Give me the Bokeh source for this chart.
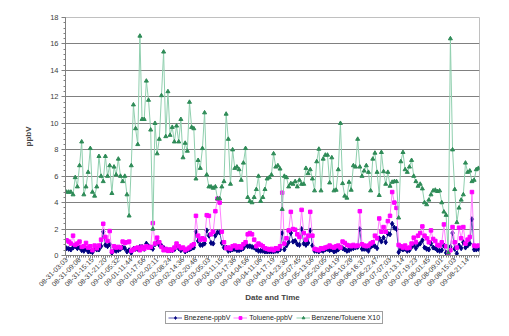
import math
from bokeh.plotting import figure
from bokeh.layouts import column
from bokeh.models import (FixedTicker, SingleIntervalTicker, Range1d, Legend,
                          LegendItem)
from bokeh.embed import file_html
from bokeh.resources import INLINE

# ---------------- data ----------------
tick_labels = [
    "08-31-03:03", "08-31-09:08", "08-31-15:15", "08-31-21:20", "09-01-05:32",
    "09-01-11:44", "09-01-17:56", "09-02-02:11", "09-02-08:24", "09-02-14:36",
    "09-02-20:46", "09-03-05:03", "09-03-11:15", "09-03-17:36", "09-04-04:56",
    "09-04-11:06", "09-04-17:19", "09-04-23:30", "09-05-07:45", "09-05-13:56",
    "09-05-20:05", "09-06-04:19", "09-06-10:28", "09-06-16:37", "09-06-22:47",
    "09-07-07:03", "09-07-13:14", "09-07-19:23", "09-08-01:45", "09-08-09:01",
    "09-08-15:03", "09-08-21:14",
]
label_step = 6
series_names = ["Bnezene-ppbV", "Toluene-ppbV", "Benzene/Toluene X10"]

ratio_x10 = [
    4.8, 4.8, 4.8, 4.6, 5.9, 5.2, 6.8, 8.6, 4.6, 5.2,
    6.3, 8.1, 4.8, 4.5, 5.2, 7.5, 6.0, 5.6, 7.5, 6.0,
    6.8, 4.7, 6.7, 6.1, 7.3, 6.0, 5.6, 6.0, 4.6, 3.0,
    6.8, 11.4, 9.6, 8.4, 16.6, 10.3, 10.3, 13.2, 11.75, 9.5,
    2.0, 10.0, 7.7, 8.8, 12.1, 15.4, 9.0, 12.4, 9.1, 9.7,
    8.6, 9.8, 8.6, 10.3, 7.4, 8.5, 7.9, 11.6, 9.7, 9.6,
    5.8, 7.2, 6.6, 8.1, 10.8, 6.1, 5.2, 5.2, 5.1, 5.2,
    4.3, 4.3, 5.2, 5.6, 10.7, 8.8, 5.4, 8.0, 6.6, 6.7,
    6.5, 5.7, 7.0, 8.1, 4.4, 4.1, 4.0, 4.4, 5.0, 6.0,
    4.1, 4.4, 5.0, 5.8, 5.9, 6.1, 7.7, 6.7, 6.8, 6.55,
    3.5, 6.0, 5.9, 5.2, 5.45, 5.4, 5.6, 5.2, 5.7, 5.4,
    5.4, 6.6, 6.2, 6.5, 5.8, 4.9, 7.1, 8.05, 4.9, 7.3,
    7.6, 7.6, 5.5, 7.4, 4.9, 4.95, 6.5, 10.0, 5.45, 4.5,
    4.35, 5.55, 4.95, 6.8, 6.7, 8.8, 6.7, 6.0, 6.4, 6.8,
    6.3, 4.9, 7.3, 7.75, 6.3, 4.55, 7.8, 6.35, 5.4, 6.3,
    5.25, 5.55, 5.6, 5.6, 2.85, 7.1, 7.8, 6.5, 6.3, 6.7,
    7.2, 6.0, 5.6, 5.25, 5.4, 5.05, 4.0, 3.85, 4.2, 4.6,
    4.9, 4.95, 4.85, 4.9, 4.0, 3.3, 3.05, 0.2, 16.4, 8.0,
    5.0, 2.5, 3.6, 4.2, 4.6, 7.0, 6.3, 6.4, 5.6, 5.7,
    6.5, 6.6,
]

toluene = [
    1.15, 1.05, 0.9, 1.5, 0.8, 0.9, 1.05, 0.65, 0.7, 0.95,
    0.6, 0.7, 0.4, 0.75, 0.55, 0.75, 1.2, 2.4, 1.4, 1.1,
    1.85, 0.3, 0.7, 0.6, 0.65, 0.6, 1.05, 0.95, 1.0, 1.05,
    0.35, 0.45, 0.55, 0.6, 0.4, 0.65, 0.5, 0.7, 0.6, 0.65,
    2.45, 0.9, 1.35, 1.0, 0.65, 0.4, 0.5, 0.35, 0.45, 0.4,
    0.6, 0.9, 0.7, 0.55, 0.6, 0.4, 0.5, 0.6, 0.75, 0.85,
    3.0, 1.5, 1.2, 1.3, 1.2, 3.05, 3.0, 1.6, 1.8, 3.35,
    4.3, 4.0, 1.8, 1.0, 0.55, 0.6, 0.5, 0.7, 0.75, 0.6,
    0.7, 0.6, 0.85, 1.0, 1.6, 1.7, 1.6, 1.2, 0.7, 0.9,
    0.8, 0.7, 0.55, 0.5, 0.45, 0.5, 0.4, 0.55, 0.5, 0.7,
    4.75, 0.9, 1.3, 1.9, 3.3, 2.0, 1.95, 1.6, 1.4, 3.45,
    1.7, 1.2, 1.5, 3.3, 1.5, 0.5, 0.45, 0.4, 0.55, 0.5,
    0.6, 0.65, 0.75, 0.65, 0.6, 0.7, 0.75, 0.6, 1.05, 0.95,
    0.8, 0.75, 0.7, 0.8, 0.7, 0.75, 3.35, 0.85, 0.75, 0.7,
    0.75, 0.9, 1.0, 1.5, 1.3, 2.8, 1.8, 2.15, 1.8, 2.6,
    3.0, 4.8, 4.0, 3.6, 0.8, 0.7, 0.6, 0.75, 0.55, 0.6,
    0.9, 1.35, 1.0, 1.5, 1.7, 2.2, 1.5, 1.3, 1.0, 1.9,
    1.25, 1.1, 0.8, 0.75, 1.0, 2.35, 0.7, 0.15, 0.4, 2.15,
    1.0, 0.6, 2.1, 1.3, 2.15, 0.9, 1.2, 1.4, 4.8, 0.75,
    0.7, 0.75,
]

benzene = [
    0.55, 0.5, 0.45, 0.6, 0.7, 0.55, 0.6, 0.4, 0.35, 0.5,
    0.3, 0.3, 0.25, 0.5, 0.45, 0.45, 0.7, 1.8, 0.8, 0.7,
    0.85, 0.2, 0.4, 0.35, 0.4, 0.5, 0.6, 0.55, 0.3, 0.4,
    0.2, 0.5, 0.5, 0.5, 0.65, 0.65, 0.5, 0.9, 0.7, 0.6,
    0.5, 0.85, 1.05, 0.8, 0.75, 0.6, 0.45, 0.4, 0.4, 0.4,
    0.45, 0.8, 0.55, 0.4, 0.5, 0.3, 0.4, 0.45, 0.55, 0.6,
    1.8, 1.1, 0.8, 0.8, 0.9, 1.9, 1.5, 0.95, 0.9, 1.5,
    1.75, 1.75, 0.95, 0.6, 0.6, 0.35, 0.4, 0.45, 0.5, 0.4,
    0.4, 0.45, 0.55, 0.8, 0.7, 0.7, 0.65, 0.6, 0.45, 0.35,
    0.35, 0.35, 0.3, 0.3, 0.3, 0.3, 0.3, 0.35, 0.35, 0.45,
    1.7, 0.45, 0.75, 1.0, 1.7, 1.05, 1.1, 0.85, 0.8, 2.0,
    0.9, 0.8, 0.95, 1.9, 0.75, 0.35, 0.35, 0.3, 0.4, 0.35,
    0.45, 0.5, 0.4, 0.45, 0.3, 0.35, 0.45, 0.6, 0.55, 0.45,
    0.35, 0.4, 0.5, 0.55, 0.6, 0.65, 2.0, 0.5, 0.5, 0.5,
    0.35, 0.65, 0.75, 0.7, 0.55, 1.3, 1.05, 1.35, 1.0, 1.65,
    1.6, 2.4, 2.1, 2.0, 0.25, 0.5, 0.45, 0.5, 0.35, 0.4,
    0.65, 0.8, 0.55, 0.8, 0.9, 1.15, 0.6, 0.5, 0.45, 0.9,
    0.6, 0.55, 0.4, 0.35, 0.4, 0.75, 0.2, 0.02, 0.65, 1.7,
    0.5, 0.15, 0.75, 0.55, 1.0, 0.6, 0.75, 0.9, 2.75, 0.45,
    0.45, 0.5,
]

x = list(range(len(ratio_x10)))

FONT = "Liberation Sans"
STYLES = [
    dict(line="#5a5ab4", marker="diamond", size=5, fill="#000080"),
    dict(line="#ff80ff", marker="square", size=3.5, fill="#ff00ff"),
    dict(line="#8fcfae", marker="triangle", size=4, fill="#2e8b57"),
]

p = figure(frame_width=414, frame_height=238,
           x_range=Range1d(-0.5, len(x) - 0.5), y_range=Range1d(0, 18),
           output_backend="svg", toolbar_location=None,
           min_border_left=65, min_border_top=17, min_border_right=30,
           min_border_bottom=0)
p.outline_line_color = "#c0c0c0"
p.background_fill_color = "white"
p.border_fill_color = "white"

p.xgrid.grid_line_color = None
p.ygrid.grid_line_color = "#808080"
p.ygrid.grid_line_width = 1

# y axis
p.yaxis.ticker = SingleIntervalTicker(interval=2, num_minor_ticks=5)
p.yaxis.axis_label = "ppbV"
p.yaxis.axis_label_text_font = FONT
p.yaxis.axis_label_text_font_style = "bold"
p.yaxis.axis_label_text_font_size = "8px"
p.yaxis.axis_label_standoff = 14
p.yaxis.major_label_text_font = FONT
p.yaxis.major_label_text_font_size = "7.5px"
p.yaxis.major_label_text_color = "#404040"
p.yaxis.axis_line_color = "#808080"
p.yaxis.major_tick_line_color = "#808080"
p.yaxis.minor_tick_line_color = "#808080"
p.yaxis.major_tick_out = 4
p.yaxis.major_tick_in = 0
p.yaxis.minor_tick_out = 2
p.yaxis.minor_tick_in = 0
p.yaxis.major_label_standoff = 3

# x axis
label_pos = [i * label_step for i in range(len(tick_labels))]
p.xaxis.ticker = FixedTicker(ticks=label_pos, minor_ticks=x)
p.xaxis.major_label_overrides = {pos: lab for pos, lab in zip(label_pos, tick_labels)}
p.xaxis.major_label_orientation = math.pi / 4
p.xaxis.major_label_text_font = FONT
p.xaxis.major_label_text_font_size = "7px"
p.xaxis.major_label_text_color = "#404040"
p.xaxis.axis_label = "Date and Time"
p.xaxis.axis_label_text_font = FONT
p.xaxis.axis_label_text_font_style = "bold"
p.xaxis.axis_label_text_font_size = "8px"
p.xaxis.axis_label_standoff = 0
p.xaxis.axis_line_color = "#808080"
p.xaxis.major_tick_line_color = "#808080"
p.xaxis.minor_tick_line_color = "#808080"
p.xaxis.major_tick_out = 3
p.xaxis.major_tick_in = 0
p.xaxis.minor_tick_out = 2
p.xaxis.minor_tick_in = 0
p.xaxis.major_label_standoff = 0

# series
for ys, st in zip([benzene, toluene, ratio_x10], STYLES):
    p.line(x, ys, line_color=st["line"], line_width=1)
    p.scatter(x, ys, marker=st["marker"], size=st["size"],
              fill_color=st["fill"], line_color=st["fill"])

# legend strip (separate figure so the legend is never clipped);
# its sample renderers sit outside the strip's ranges, only their legend icons show
lg = figure(width=509, height=32, output_backend="svg", toolbar_location=None,
            x_axis_location=None, y_axis_location=None, min_border=0,
            x_range=Range1d(0, 1), y_range=Range1d(0, 1))
lg.outline_line_color = None
lg.xgrid.grid_line_color = None
lg.ygrid.grid_line_color = None
items = []
for name, st in zip(series_names, STYLES):
    rl = lg.line([-10, -9], [-10, -10], line_color=st["line"], line_width=1)
    rs = lg.scatter([-10], [-10], marker=st["marker"], size=st["size"],
                    fill_color=st["fill"], line_color=st["fill"])
    items.append(LegendItem(label=name, renderers=[rl, rs]))

legend = Legend(items=items, orientation="horizontal", location=(100, 13))
legend.label_text_font = FONT
legend.label_text_font_size = "7px"
legend.label_text_color = "#202020"
legend.glyph_width = 14
legend.glyph_height = 7
legend.label_standoff = 2
legend.spacing = 3
legend.padding = 2
legend.margin = 0
legend.border_line_color = "#404040"
legend.border_line_width = 1
legend.label_height = 7
lg.add_layout(legend, "center")

layout = column(p, lg, spacing=0)
open("out.html", "w").write(file_html(layout, INLINE))
